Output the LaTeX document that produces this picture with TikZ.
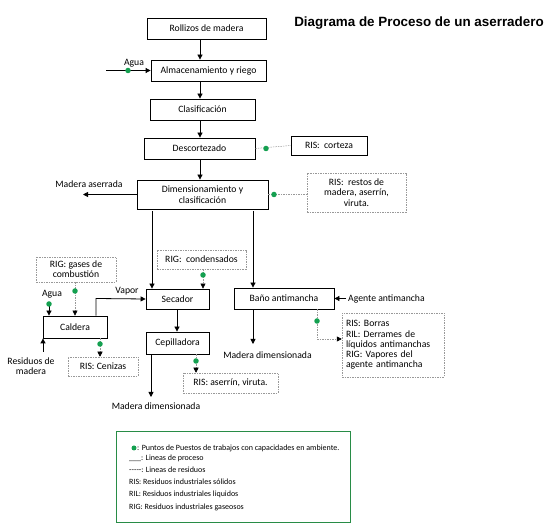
\documentclass[tikz,border=0pt]{standalone}
\usepackage{fontspec}
\setmainfont{Carlito}
\newfontfamily\titlefont{Liberation Sans}
\usetikzlibrary{arrows.meta,calc}
\definecolor{dotgreen}{RGB}{20,160,80}
\definecolor{leggreen}{RGB}{40,140,70}
\tikzset{
  proc/.style={draw=black,line width=0.8pt,rectangle,inner sep=0pt,align=center,font=\fontsize{9.7}{11}\selectfont},
  resbox/.style={draw=gray!80,dashed,line width=0.5pt,dash pattern=on 1.5pt off 1pt,rectangle,inner sep=0pt,align=center,font=\fontsize{9.7}{10.3}\selectfont},
  arr/.style={line width=0.8pt,-{Triangle[length=5pt,width=5pt]}},
  pline/.style={line width=0.8pt},
  rline/.style={draw=gray!80,line width=0.5pt,dash pattern=on 1.5pt off 1pt},
  rarr/.style={rline,-{Triangle[length=5pt,width=5pt,color=black]}},
  gdot/.style={circle,fill=dotgreen,inner sep=0pt,minimum size=5.5pt},
  lbl/.style={font=\fontsize{9.7}{10.3}\selectfont,inner sep=0pt,align=center},
  legtxt/.style={font=\fontsize{8}{8.5}\selectfont,inner sep=0pt,anchor=west}
}
\begin{document}
\begin{tikzpicture}[x=1pt,y=-1pt]
\useasboundingbox (0,0) rectangle (550,529);
% title
\node[inner sep=0pt,font=\titlefont\bfseries\fontsize{13.4}{15}\selectfont] (title) at (419,23) {Diagrama de Proceso de un aserradero};
% process boxes
\node[proc,minimum width=119,minimum height=21] (roll) at (206.5,28.5) {Rollizos de madera};
\node[proc,minimum width=115,minimum height=21] (alm) at (208.5,70.5) {Almacenamiento y riego};
\node[proc,minimum width=105,minimum height=21] (clas) at (202.5,109.5) {Clasificación};
\node[proc,minimum width=111,minimum height=21] (desc) at (199.5,148.5) {Descortezado};
\node[proc,minimum width=131,minimum height=29] (dim) at (202.5,194.5) {Dimensionamiento y\\clasificación};
\node[proc,minimum width=63,minimum height=20] (sec) at (177.5,299) {Secador};
\node[proc,minimum width=100,minimum height=21] (bano) at (284,298.5) {Baño antimancha};
\node[proc,minimum width=64,minimum height=22] (cald) at (75,327) {Caldera};
\node[proc,minimum width=63,minimum height=22] (cep) at (177.5,343) {Cepilladora};
% residue boxes
\node[proc,line width=0.7pt,minimum width=76,minimum height=19] (cort) at (329,145.5) {RIS:\ \ corteza};
\node[resbox,minimum width=99,minimum height=39] (restos) at (356.5,192.5) {RIS:\ \ restos de\\madera, aserrín,\\viruta.};
\node[resbox,minimum width=89,minimum height=19] (cond) at (201.5,259.5) {RIG:\ \ condensados};
\node[resbox,minimum width=80,minimum height=25] (gases) at (76,269.5) {RIG: gases de\\combustión};
\node[resbox,minimum width=70,minimum height=19] (cen) at (103,366.5) {RIS: Cenizas};
\node[resbox,minimum width=95,minimum height=20] (aser) at (230.5,383) {RIS: aserrín, viruta.};
\node[resbox,minimum width=102,minimum height=64,align=left,text width=94] (borras) at (393,345) {RIS: Borras\\RIL: Derrames de\\líquidos antimanchas\\RIG: Vapores del\\agente antimancha};
% main axis arrows
\coordinate (ax) at (200,0);
\draw[arr] (roll.south -| ax) -- (alm.north -| ax);
\draw[arr] (alm.south -| ax) -- (clas.north -| ax);
\draw[arr] (clas.south -| ax) -- (desc.north -| ax);
\draw[arr] (desc.south -| ax) -- (dim.north -| ax);
% agua to almacenamiento
\coordinate (aguaS) at (106,70.5);
\draw[arr] (aguaS) -- (alm.west);
\node[gdot] (d1) at (128,70.5) {};
\node[lbl] (agua1) at (134,63) {Agua};
% descortezado residue
\draw[rline] (desc.east) -- (cort.west);
\node[gdot] (d2) at (266,148.5) {};
% madera aserrada
\coordinate (maS) at (83,194.5);
\draw[arr] (dim.west) -- (maS);
\node[lbl] (malbl) at (89,184) {Madera aserrada};
% dim residue
\draw[rline] (dim.east) -- (dim.east -| restos.west);
\node[gdot] (d3) at (274,194.5) {};
% dim to secador and baño
\coordinate (l1) at (152,211);
\coordinate (l2) at (253,211);
\draw[arr] (l1) -- (l1 |- sec.north);
\draw[arr] (l2) -- (l2 |- bano.north);
% condensados
\coordinate (cx) at (203,0);
\draw[rarr] (cond.south -| cx) -- (sec.north -| cx);
\node[gdot] (d4) at (203,275) {};
% baño residue
\coordinate (bx) at (317,0);
\coordinate (bc) at (317,339);
\draw[rarr] (bano.south -| bx) -- (bc) -- (bc -| borras.west);
\node[gdot] (d5) at (317,321) {};
% agente antimancha
\coordinate (agS) at (346,298.5);
\draw[arr] (agS) -- (bano.east);
\node[lbl,anchor=west] (aglbl) at (348,298.5) {Agente antimancha};
% baño down
\coordinate (bdE) at (253,344);
\draw[arr] (bano.south -| bdE) -- (bdE);
\node[lbl] (md1) at (267.5,355) {Madera dimensionada};
% secador to cepilladora
\coordinate (scx) at (177,0);
\draw[arr] (sec.south -| scx) -- (cep.north -| scx);
% cepilladora down
\coordinate (cdE) at (151,397);
\draw[arr] (cep.south -| cdE) -- (cdE);
\node[lbl] (md2) at (156,406) {Madera dimensionada};
% cepilladora residue
\coordinate (crx) at (196,0);
\draw[rarr] (cep.south -| crx) -- (aser.north -| crx);
\node[gdot] (d6) at (196,361) {};
% gases to caldera
\coordinate (gx) at (75,0);
\draw[rarr] (gases.south -| gx) -- (cald.north -| gx);
\node[gdot] (d7) at (75,291) {};
% agua to caldera
\coordinate (ag2) at (49,302);
\draw[arr] (ag2) -- (ag2 |- cald.north);
\node[gdot] (d8) at (49,304) {};
\node[lbl] (agua2) at (52,294) {Agua};
% vapor
\coordinate (vx) at (96,298.5);
\draw[arr] (vx |- cald.north) -- (vx) -- (sec.west);
\node[lbl] (vap) at (127,291) {Vapor};
% residuos de madera
\coordinate (rmS) at (43,352);
\draw[arr] (rmS) -- (rmS |- cald.south);
\node[lbl] (rmlbl) at (31,366) {Residuos de\\madera};
% caldera residue
\coordinate (clx) at (100,0);
\draw[rarr] (cald.south -| clx) -- (cen.north -| clx);
\node[gdot] (d9) at (100,344) {};
% legend
\node[draw=leggreen,line width=0.9pt,minimum width=234,minimum height=91,inner sep=0pt] (leg) at (233,476.5) {};
\node[gdot,minimum size=5pt] (ld) at (134,448) {};
\node[legtxt] (lt1) at (137,448) {: Puntos de Puestos de trabajos con capacidades en ambiente.};
\node[legtxt] (lt2) at (129,458) {\_\_\_: Lineas de proceso};
\node[legtxt] (lt3) at (129,469.5) {{-}{-}{-}{-}{-}: Lineas de residuos};
\node[legtxt] (lt4) at (129,482) {RIS: Residuos industriales sólidos};
\node[legtxt] (lt5) at (129,494) {RIL: Residuos industriales liquidos};
\node[legtxt] (lt6) at (129,507) {RIG: Residuos industriales gaseosos};
\end{tikzpicture}
\end{document}
